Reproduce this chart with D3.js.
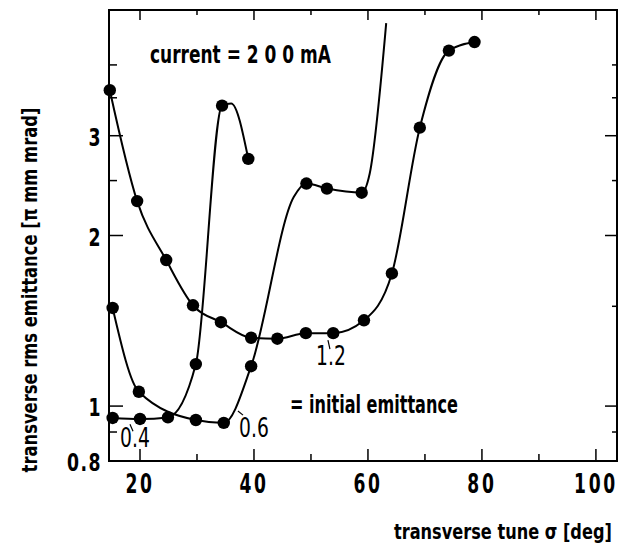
<!DOCTYPE html>
<html>
<head>
<meta charset="utf-8">
<script src="https://cdn.jsdelivr.net/npm/d3@7"></script>
<style>
  body { margin: 0; background: #fff; }
  text { font-family: "DejaVu Sans", "Liberation Sans", sans-serif; fill: #000; }
</style>
</head>
<body>
<svg id="chart" width="627" height="549"></svg>
<script>
// Transverse tune sigma [deg] vs. rms emittance [pi mm mrad], beam current 200 mA,
// one series per initial emittance (0.4, 0.6, 1.2).
const tune04 = [15.2, 20.0, 24.9, 29.8, 34.4, 39.0];
const emit04 = [0.953, 0.949, 0.955, 1.186, 3.39, 2.73];

const tune06 = [15.2, 19.8, 29.8, 34.7, 39.5, 49.2, 52.8, 58.9];
const emit06 = [1.49, 1.06, 0.945, 0.934, 1.176, 2.47, 2.42, 2.38];

const tune12 = [14.7, 19.5, 24.6, 29.3, 34.2, 39.5, 44.1, 49.1, 53.9, 59.3, 64.2, 69.1, 74.2, 78.7];
const emit12 = [3.61, 2.30, 1.81, 1.506, 1.406, 1.32, 1.315, 1.345, 1.345, 1.417, 1.714, 3.10, 4.24, 4.39];

// unmarked points that shape the drawn curves between measurements
const shape04 = [[36.0, 3.42]];
const shape06 = [[47.0, 2.34], [60.3, 2.57], [63.2, 4.74]];
const shape12 = [];

const seriesLabels = ["0.4", "0.6", "1.2"];

const xTicks = [20, 40, 60, 80, 100];
const xMinorTicks = [30, 50, 70, 90];
const yTicks = [0.8, 1, 2, 3];
const yMajorMarks = [1, 2, 3];
const yMinorMarks = [0.9, 1.5, 2.5, 3.5, 4];

const svg = d3.select("#chart");

const x = d3.scaleLinear().domain([14.56, 103.7]).range([109, 617]);
const y = d3.scaleLog().domain([0.8, 5]).range([461, 10]);

const zip = (xs, ys) => xs.map((v, i) => [v, ys[i]]);
const series = [
  { label: seriesLabels[0], pts: zip(tune04, emit04), shape: shape04 },
  { label: seriesLabels[1], pts: zip(tune06, emit06), shape: shape06 },
  { label: seriesLabels[2], pts: zip(tune12, emit12), shape: shape12 }
];

// horizontally condensed lettering
function narrowText(parent, px, py, str, opts) {
  const o = Object.assign({ size: 22, weight: "bold", anchor: "start", sx: 0.72, spacing: 0 }, opts);
  return parent.append("text")
    .attr("transform", `translate(${px},${py}) scale(${o.sx},1)`)
    .attr("text-anchor", o.anchor)
    .attr("font-size", o.size)
    .attr("font-weight", o.weight)
    .attr("letter-spacing", o.spacing)
    .text(str);
}

// lettering squeezed to a given run length
function fittedText(parent, px, py, str, width, opts) {
  const o = Object.assign({ size: 22, weight: "bold", anchor: "start", rotate: 0 }, opts);
  const t = parent.append("text")
    .attr("text-anchor", o.anchor)
    .attr("font-size", o.size)
    .attr("font-weight", o.weight)
    .text(str);
  const w = t.node().getComputedTextLength() || width;
  t.attr("transform", `translate(${px},${py}) rotate(${o.rotate}) scale(${width / w},1)`);
  return t;
}

// frame
svg.append("rect")
  .attr("x", x.range()[0]).attr("y", y.range()[1])
  .attr("width", x.range()[1] - x.range()[0])
  .attr("height", y.range()[0] - y.range()[1])
  .attr("fill", "none").attr("stroke", "#000").attr("stroke-width", 2);

// inward ticks on all four sides
const tickG = svg.append("g").attr("stroke", "#000").attr("stroke-width", 1.5);
function xTickMarks(vals, lenBottom, lenTop) {
  vals.forEach(v => {
    tickG.append("line").attr("x1", x(v)).attr("x2", x(v))
      .attr("y1", y.range()[0]).attr("y2", y.range()[0] - lenBottom);
    tickG.append("line").attr("x1", x(v)).attr("x2", x(v))
      .attr("y1", y.range()[1]).attr("y2", y.range()[1] + lenTop);
  });
}
function yTickMarks(vals, lenLeft, lenRight) {
  vals.forEach(v => {
    tickG.append("line").attr("y1", y(v)).attr("y2", y(v))
      .attr("x1", x.range()[0]).attr("x2", x.range()[0] + lenLeft);
    tickG.append("line").attr("y1", y(v)).attr("y2", y(v))
      .attr("x1", x.range()[1]).attr("x2", x.range()[1] - lenRight);
  });
}
xTickMarks(xTicks, 12, 10);
xTickMarks(xMinorTicks, 7, 5);
yTickMarks(yMajorMarks, 14, 12);
yTickMarks(yMinorMarks, 8, 5);

// tick labels
const xLab = svg.append("g");
xTicks.forEach(d => narrowText(xLab, x(d), 493, d, { size: 26, anchor: "middle", sx: 0.66, spacing: 4 }));
const yLab = svg.append("g");
yTicks.forEach(d => narrowText(yLab, x.range()[0] - 7, y(d) + 10, d, { size: 24, anchor: "end", sx: 0.72, spacing: 2 }));

// curves
const line = d3.line()
  .x(d => x(d[0])).y(d => y(d[1]))
  .curve(d3.curveMonotoneX);

svg.append("g").selectAll("path").data(series).join("path")
  .attr("d", s => line(s.pts.concat(s.shape).sort((a, b) => a[0] - b[0])))
  .attr("fill", "none").attr("stroke", "#000").attr("stroke-width", 2);

// measured points
svg.append("g").selectAll("g").data(series).join("g")
  .selectAll("circle").data(s => s.pts).join("circle")
  .attr("cx", d => x(d[0])).attr("cy", d => y(d[1])).attr("r", 6.2)
  .attr("fill", "#000");

// curve labels with short leaders
const labelSpec = [
  { s: 0, at: [19.12, 0.847], lead: [[18.24, 0.929], [18.77, 0.903]] },
  { s: 1, at: [40.0, 0.882], lead: [[37.19, 0.980], [38.07, 0.964]] },
  { s: 2, at: [53.5, 1.18], lead: [[52.98, 1.308], [53.33, 1.261]] }
];
const lab = svg.append("g");
labelSpec.forEach(l => {
  narrowText(lab, x(l.at[0]), y(l.at[1]), series[l.s].label,
    { size: 26, weight: "normal", anchor: "middle", sx: 0.72 });
  lab.append("line")
    .attr("x1", x(l.lead[0][0])).attr("y1", y(l.lead[0][1]))
    .attr("x2", x(l.lead[1][0])).attr("y2", y(l.lead[1][1]))
    .attr("stroke", "#000").attr("stroke-width", 1.2);
});

// annotations
const notes = svg.append("g");
fittedText(notes, 150, 63, "current = 2 0 0 mA", 181, { size: 24 });
fittedText(notes, 290, 413, "= initial  emittance", 168, { size: 24 });

// axis titles
fittedText(svg, 394, 539, "transverse tune σ  [deg]", 218, { size: 22 });
fittedText(svg, 37, 290, "transverse  rms  emittance [π  mm  mrad]", 365,
  { size: 21, anchor: "middle", rotate: -90 });
</script>
</body>
</html>
